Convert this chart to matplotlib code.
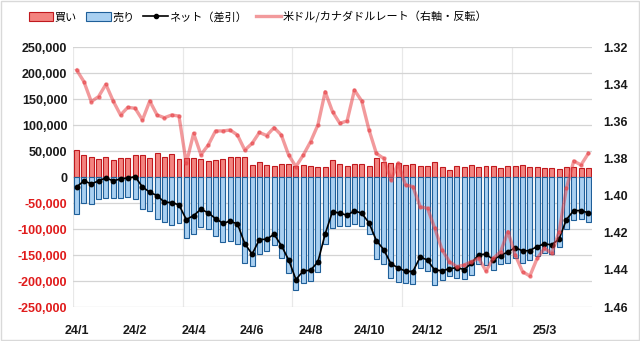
import numpy as np
import matplotlib.pyplot as plt
from matplotlib.patches import Patch, Rectangle
from matplotlib.lines import Line2D
from matplotlib.ticker import FuncFormatter

# データ（週次、単位：枚）
buy = [51300, 41700, 37800, 34000, 37800, 32000, 35900, 35900, 41700, 41700,
       35900, 45500, 37800, 43600, 34000, 35900, 35900, 34000, 31400, 33300,
       35300, 37800, 37800, 37800, 22400, 28200, 22400, 20500, 24400, 24400,
       20500, 22400, 20500, 18600, 18600, 32000, 24400, 20500, 24400, 24400,
       20500, 35900, 28200, 26300, 26300, 22400, 24400, 20500, 20500, 28200,
       18600, 12800, 20500, 18600, 22400, 18600, 20500, 20500, 16700, 20500,
       20500, 22400, 18600, 18600, 16700, 16700, 14700, 18600, 18600, 16700,
       16700]
sell = [-70300, -49100, -51100, -41400, -39500, -39500, -39500, -37600, -41400, -60700,
        -65200, -81200, -86300, -92700, -87600, -117700, -110000, -95900, -100400, -113200,
        -124100, -122900, -128000, -165800, -170900, -148500, -142100, -130500, -156200, -183700,
        -217700, -203000, -199800, -181800, -128000, -98500, -94000, -94000, -89500, -94000,
        -108800, -158100, -167700, -193400, -201100, -203600, -206200, -174100, -180500, -207500,
        -198500, -189500, -194600, -196600, -188200, -167700, -169000, -179300, -167700, -164500,
        -156200, -164500, -160000, -152300, -145300, -147200, -133800, -100400, -83100, -81200,
        -85700]
rate = [1.3324, 1.3387, 1.3494, 1.3467, 1.3401, 1.3491, 1.3566, 1.3525, 1.3530, 1.3593,
        1.3491, 1.3566, 1.3581, 1.3566, 1.3572, 1.3826, 1.3665, 1.3780, 1.3728, 1.3652,
        1.3652, 1.3647, 1.3674, 1.3755, 1.3719, 1.3660, 1.3677, 1.3634, 1.3674, 1.3782,
        1.3844, 1.3782, 1.3710, 1.3620, 1.3441, 1.3548, 1.3611, 1.3598, 1.3432, 1.3491,
        1.3647, 1.3773, 1.3800, 1.3916, 1.3826, 1.3943, 1.3952, 1.4060, 1.4069, 1.4177,
        1.4293, 1.4356, 1.4383, 1.4374, 1.4356, 1.4338, 1.4406, 1.4338, 1.4302, 1.4194,
        1.4320, 1.4410, 1.4433, 1.4338, 1.4284, 1.4311, 1.4194, 1.3961, 1.3814, 1.3835,
        1.3773]
tick_pos = [0, 8, 16, 24, 32, 40, 48, 56, 64]
tick_labels = ["24/1", "24/2", "24/4", "24/6", "24/8", "24/10", "24/12", "25/1", "25/3"]

buy = np.array(buy)
sell = np.array(sell)
net = buy + sell
x = np.arange(len(buy))

plt.rcParams['font.family'] = ['Noto Sans CJK JP', 'DejaVu Sans']

fig = plt.figure(figsize=(6.4, 3.41), dpi=100)
ax = fig.add_axes([73/640, 1-307/341, (592-73)/640, (307-47)/341])
ax2 = ax.twinx()

# 棒グラフ
ax.bar(x, buy, width=0.68, color='#f3837f', edgecolor='#c0191e', linewidth=0.8, zorder=2)
ax.bar(x, sell, width=0.68, color='#a9d0f1', edgecolor='#1f5f99', linewidth=0.8, zorder=2)

ax.set_xlim(-0.5, len(x) - 0.5)
ax.set_ylim(-250000, 250000)
ax.set_yticks(np.arange(-250000, 250001, 50000))
ax.yaxis.set_major_formatter(FuncFormatter(lambda v, p: f"{int(v):,}"))
for lab, v in zip(ax.get_yticklabels(), np.arange(-250000, 250001, 50000)):
    lab.set_color('#e01b1b' if v < 0 else '#1a1a1a')
    lab.set_fontweight('bold')
    lab.set_fontfamily('Liberation Sans')
    lab.set_fontsize(9)

ax.set_xticks(tick_pos)
ax.set_xticklabels(tick_labels, fontfamily='Liberation Sans', fontweight='bold',
                   fontsize=9, color='#1a1a1a')
ax.tick_params(axis='both', length=0)
ax.tick_params(axis='x', pad=13)
ax.tick_params(axis='y', pad=4)

# グリッド
ax.grid(axis='y', color='#d4d4d4', linewidth=0.9, zorder=0)
for gx in [-0.5, 14.5, 29.5, 44.5, 59.5]:
    ax.axvline(gx, color='#e8e8e8', linewidth=0.9, zorder=0)
for s in ax.spines.values():
    s.set_visible(False)
for s in ax2.spines.values():
    s.set_visible(False)

# ネット（差引）
ax2.plot(x, net, transform=ax.transData, color='black', linewidth=1.2,
         marker='o', markersize=3.2, zorder=3)

# 為替レート（右軸・反転）
ax2.plot(x, rate, color='#e8474c', alpha=0.55, linewidth=2.4,
         marker='o', markersize=2.2, zorder=4)
ax2.set_ylim(1.46, 1.32)
ax2.set_yticks(np.arange(1.32, 1.4601, 0.02))
ax2.yaxis.set_major_formatter(FuncFormatter(lambda v, p: f"{v:.2f}"))
ax2.tick_params(axis='y', length=0, pad=8, labelsize=9)
for lab in ax2.get_yticklabels():
    lab.set_fontweight('bold')
    lab.set_fontfamily('Liberation Sans')
    lab.set_color('#1a1a1a')

# 凡例
handles = [
    Patch(facecolor='#f3837f', edgecolor='#c0191e', linewidth=0.8),
    Patch(facecolor='#a9d0f1', edgecolor='#1f5f99', linewidth=0.8),
    Line2D([], [], color='black', linewidth=1.2, marker='o', markersize=3),
    Line2D([], [], color='#e8474c', alpha=0.55, linewidth=2.4),
]
labels = ["買い", "売り", "ネット（差引）", "米ドル/カナダドルレート（右軸・反転）"]
fig.legend(handles, labels, loc='center', bbox_to_anchor=(0.403, 1-17/341), ncol=4,
           frameon=False, fontsize=8, handlelength=2.2, handletextpad=0.15,
           columnspacing=0.8, handleheight=0.9)

# 外枠
fig.patches.append(Rectangle((0.002, 0.003), 0.996, 0.994, transform=fig.transFigure,
                             fill=False, edgecolor='#d9d9d9', linewidth=1))

fig.savefig("out.png", dpi=100)
